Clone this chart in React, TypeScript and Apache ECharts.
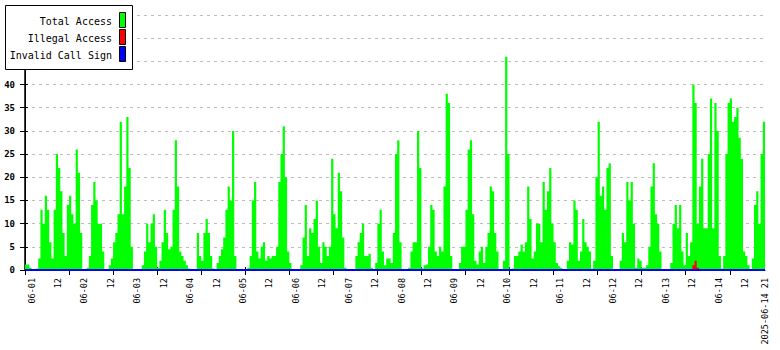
import React, { useEffect, useRef } from "react";
import * as echarts from "echarts";

// Hourly values, starting 2025-05-31 21:00 and ending 2025-06-14 21:00
const totalAccess: number[] = [
  1.2, 1.2, 0.5, 0, 0, 0.3, 2.5, 13, 10, 16, 13, 6, 2.5, 13, 25, 22, 17, 8, 3, 14, 16, 12, 10, 26,
  21, 8, 0, 0, 0.5, 3, 14, 19, 15, 10, 10, 4, 0, 0, 1, 2.5, 6, 8, 12, 32, 12, 18, 33, 22,
  5, 0, 0, 0, 0, 1, 4, 10, 6, 10, 12, 5, 0.5, 2, 6, 13, 8, 4.5, 5, 13, 28, 18, 4, 3,
  2, 1, 0.3, 0, 0, 0, 8, 3, 2, 8, 11, 8, 3, 0.3, 0, 1.5, 3, 4.5, 7, 13, 18, 15, 30, 3,
  0, 0, 0, 0, 0, 0.5, 3, 15, 19, 4, 2.5, 5, 6, 2, 3, 2.5, 3, 3, 5, 19, 25, 31, 20, 4,
  1.5, 0, 0, 0, 0, 1, 7, 14, 3, 9, 8, 11, 15, 5, 1.5, 6, 5, 3, 5, 24, 12, 9, 21, 17,
  7, 0.5, 0, 0, 0, 0, 3, 6, 8, 10, 3, 3, 3.5, 0.5, 0, 1.5, 10, 13, 4, 1, 2.5, 2.5, 1.5, 8,
  25, 28, 6, 0, 0, 0, 0.5, 4, 6, 6, 30, 22, 0.3, 1, 1.2, 5, 14, 13, 4, 3, 5, 4, 18, 38,
  36, 3, 0, 0, 0.2, 1.5, 5, 5, 13, 26, 28, 12, 2, 1.2, 4, 5, 1.5, 5, 8, 18, 17, 8, 4, 0,
  0, 2, 46, 25, 0, 0.3, 3, 3, 4, 5.5, 4, 6, 18, 11, 2.5, 4, 10, 10, 6, 19, 13, 17, 22, 10,
  6, 1.5, 0.8, 0.5, 0, 0, 2, 6, 5.5, 15, 13, 2, 4, 11, 6, 5, 4, 0.3, 2, 20, 32, 16, 18, 13,
  22, 23, 3, 0, 0, 0, 2, 8, 6, 19, 15, 19, 10, 0.5, 2.5, 2, 0.5, 0.5, 1, 5, 18, 23, 12, 10,
  4, 0, 0, 0, 0, 1.5, 10, 14, 9, 14, 4, 1, 8, 3, 6, 40, 36, 10, 18, 24, 9, 9, 25, 37,
  9, 36, 30, 3, 0.3, 3, 25, 36, 37, 32, 33, 35, 28.5, 24, 4, 3, 1, 0, 2.5, 14, 17, 10, 25, 32,
];

// Sparse series: hours (index into the window) with non-zero values
const illegalHours = [303, 304, 305];
const illegalValues = [1, 2, 0.5];
const invalidHours: number[] = [];
const invalidValues: number[] = [];

const xLabelHours = [
  3, 15, 27, 39, 51, 63, 75, 87, 99, 111, 123, 135, 147, 159, 171, 183, 195, 207, 219, 231,
  243, 255, 267, 279, 291, 303, 315, 327, 336,
];
const xLabelTexts = [
  "06-01", "12", "06-02", "12", "06-03", "12", "06-04", "12", "06-05", "12",
  "06-06", "12", "06-07", "12", "06-08", "12", "06-09", "12", "06-10", "12",
  "06-11", "12", "06-12", "12", "06-13", "12", "06-14", "12", "2025-06-14 21",
];
const xTickHours = [0, 20, 40, 60, 80, 100, 120, 140, 160, 180, 200, 220, 240, 260, 280, 300, 320];

const legendNames = ["Total Access", "Illegal Access", "Invalid Call Sign"];
const legendColors = ["#00ff00", "#ff0000", "#0000ff"];

const Y_MAX = 55;
const Y_STEP = 5;
const Y_LABEL_MAX = 40;

function stepData(values: number[]) {
  const d: number[][] = values.map((v, i) => [i, v]);
  d.push([values.length, values[values.length - 1]]);
  return d;
}

function sparseToFull(hours: number[], vals: number[], n: number) {
  const full: number[] = [];
  for (let i = 0; i < n; i++) {
    const k = hours.indexOf(i);
    full.push(k >= 0 ? vals[k] : 0);
  }
  return full;
}

const MONO = "'DejaVu Sans Mono', 'Liberation Mono', monospace";

export default function App() {
  const ref = useRef<HTMLDivElement>(null);
  useEffect(() => {
    if (!ref.current) return;
    const chart = echarts.init(ref.current, undefined, { renderer: "svg" });
    const n = totalAccess.length;
    const illegal = sparseToFull(illegalHours, illegalValues, n);
    const invalid = sparseToFull(invalidHours, invalidValues, n);

    const legendGraphics: any[] = [
      {
        type: "rect",
        z: 100,
        shape: { x: 5.5, y: 5.5, width: 127, height: 64 },
        style: { fill: "#fff", stroke: "#000", lineWidth: 1 },
      },
    ];
    legendNames.forEach((name, i) => {
      legendGraphics.push({
        type: "text",
        z: 101,
        x: 112,
        y: 21 + i * 17,
        style: {
          text: name,
          fill: "#000",
          font: `10px ${MONO}`,
          textAlign: "right",
          textVerticalAlign: "middle",
        },
      });
      legendGraphics.push({
        type: "rect",
        z: 101,
        shape: { x: 119.5, y: 12.5 + i * 17, width: 6, height: 15 },
        style: { fill: legendColors[i], stroke: "#000", lineWidth: 1 },
      });
    });

    chart.setOption({
      animation: false,
      backgroundColor: "#fff",
      grid: { left: 25, right: 15, top: 15, bottom: 80, containLabel: false },
      xAxis: [
        {
          type: "value",
          min: 0,
          max: n,
          position: "bottom",
          axisLine: { show: true, lineStyle: { color: "#000", width: 1 } },
          axisTick: {
            show: true,
            customValues: xTickHours,
            length: 5,
            lineStyle: { color: "#000", width: 1 },
          },
          axisLabel: {
            show: true,
            customValues: xLabelHours,
            formatter: (v: number) => {
              const k = xLabelHours.indexOf(Math.round(v));
              return k >= 0 ? xLabelTexts[k] : "";
            },
            rotate: 90,
            margin: 8,
            color: "#000",
            fontFamily: MONO,
            fontSize: 8.5,
          },
          splitLine: { show: false },
        },
        {
          type: "value",
          min: 0,
          max: n,
          position: "bottom",
          axisLine: { show: false },
          axisTick: {
            show: true,
            inside: true,
            customValues: xTickHours,
            length: 3,
            lineStyle: { color: "#000", width: 1 },
          },
          axisLabel: { show: false },
          splitLine: { show: false },
        },
      ],
      yAxis: [
        {
          type: "value",
          min: 0,
          max: Y_MAX,
          interval: Y_STEP,
          position: "left",
          axisLine: { show: true, lineStyle: { color: "#000", width: 1 } },
          axisTick: { show: true, length: 5, lineStyle: { color: "#000" } },
          axisLabel: {
            formatter: (v: number) => (v <= Y_LABEL_MAX ? String(v) : ""),
            color: "#000",
            fontFamily: MONO,
            fontSize: 9,
            fontWeight: "bold",
            margin: 10,
          },
          splitLine: {
            show: true,
            lineStyle: { color: "#bdbdbd", type: [3, 4], width: 1 },
          },
        },
        {
          type: "value",
          min: 0,
          max: Y_MAX,
          interval: Y_STEP,
          position: "right",
          axisLine: { show: true, lineStyle: { color: "#000", width: 1.5 } },
          axisTick: { show: false },
          axisLabel: { show: false },
          splitLine: { show: false },
        },
        {
          type: "value",
          min: 0,
          max: Y_MAX,
          interval: Y_STEP,
          position: "left",
          axisLine: { show: false },
          axisTick: { show: true, inside: true, length: 3, lineStyle: { color: "#000" } },
          axisLabel: { show: false },
          splitLine: { show: false },
        },
      ],
      series: [
        {
          name: legendNames[0],
          type: "line",
          step: "end",
          data: stepData(totalAccess),
          symbol: "none",
          lineStyle: { width: 0, opacity: 0 },
          itemStyle: { color: legendColors[0] },
          areaStyle: { color: legendColors[0], opacity: 1 },
          z: 2,
        },
        {
          name: legendNames[1],
          type: "line",
          step: "end",
          data: stepData(illegal),
          symbol: "none",
          lineStyle: { width: 0, opacity: 0 },
          itemStyle: { color: legendColors[1] },
          areaStyle: { color: legendColors[1], opacity: 1 },
          z: 3,
        },
        {
          name: legendNames[2],
          type: "line",
          step: "end",
          data: stepData(invalid),
          symbol: "none",
          lineStyle: { width: 2, color: legendColors[2] },
          itemStyle: { color: legendColors[2] },
          z: 4,
        },
      ],
      graphic: legendGraphics,
    });
    return () => chart.dispose();
  }, []);
  return (
    <div
      ref={ref}
      style={{ position: "fixed", left: 0, top: 0, width: 780, height: 350, background: "#fff" }}
    />
  );
}
